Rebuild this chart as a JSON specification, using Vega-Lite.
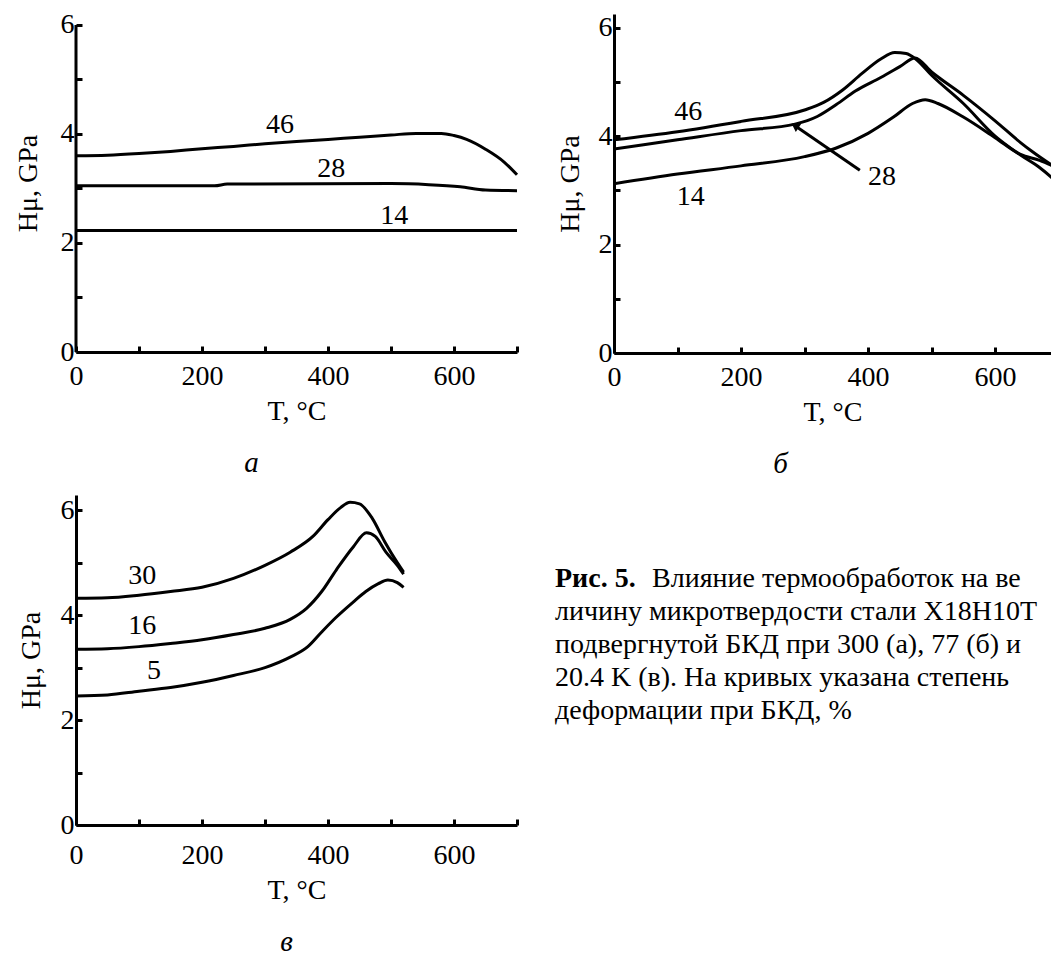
{
  "$schema": "https://vega.github.io/schema/vega-lite/v6.json",
  "padding": {"left": 14, "top": 10, "right": 0, "bottom": 0},
  "background": "white",
  "config": {
    "view": {"stroke": null},
    "font": "Liberation Serif",
    "axis": {"domainColor": "black", "domainWidth": 3, "tickColor": "black", "tickWidth": 3, "grid": false,
      "labelFont": "Liberation Serif", "labelFontSize": 28, "labelColor": "black",
      "titleFont": "Liberation Serif", "titleFontSize": 28, "titleFontWeight": "normal", "titleColor": "black"},
    "title": {"font": "Liberation Serif", "fontSize": 29, "fontStyle": "italic", "fontWeight": "normal", "color": "black"},
    "text": {"font": "Liberation Serif", "fontSize": 28, "color": "black"}
  },
  "datasets": {
    "a": [
      {"s": "46", "T": 0, "H": 3.6}, {"s": "46", "T": 50, "H": 3.61}, {"s": "46", "T": 100, "H": 3.64}, {"s": "46", "T": 150, "H": 3.68},
      {"s": "46", "T": 200, "H": 3.73}, {"s": "46", "T": 250, "H": 3.77}, {"s": "46", "T": 300, "H": 3.82}, {"s": "46", "T": 350, "H": 3.86},
      {"s": "46", "T": 400, "H": 3.9}, {"s": "46", "T": 450, "H": 3.94}, {"s": "46", "T": 500, "H": 3.98}, {"s": "46", "T": 540, "H": 4.01},
      {"s": "46", "T": 580, "H": 4.01}, {"s": "46", "T": 600, "H": 3.97}, {"s": "46", "T": 620, "H": 3.9}, {"s": "46", "T": 650, "H": 3.72},
      {"s": "46", "T": 680, "H": 3.48}, {"s": "46", "T": 700, "H": 3.25},
      {"s": "28", "T": 0, "H": 3.05}, {"s": "28", "T": 220, "H": 3.05}, {"s": "28", "T": 240, "H": 3.08}, {"s": "28", "T": 500, "H": 3.09},
      {"s": "28", "T": 560, "H": 3.07}, {"s": "28", "T": 610, "H": 3.03}, {"s": "28", "T": 650, "H": 2.97}, {"s": "28", "T": 700, "H": 2.96},
      {"s": "14", "T": 0, "H": 2.23}, {"s": "14", "T": 700, "H": 2.23}
    ],
    "aAxis": [
      {"T": 0, "H": 0, "H2": 6}
    ],
    "aLab": [
      {"T": 324, "H": 4.16, "label": "46"}, {"T": 405, "H": 3.35, "label": "28"}, {"T": 505, "H": 2.5, "label": "14"}
    ],
    "b": [
      {"s": "46", "T": 0, "H": 3.93}, {"s": "46", "T": 100, "H": 4.08}, {"s": "46", "T": 200, "H": 4.27}, {"s": "46", "T": 300, "H": 4.48},
      {"s": "46", "T": 330, "H": 4.62}, {"s": "46", "T": 360, "H": 4.85}, {"s": "46", "T": 390, "H": 5.15}, {"s": "46", "T": 420, "H": 5.42},
      {"s": "46", "T": 442, "H": 5.54}, {"s": "46", "T": 460, "H": 5.52}, {"s": "46", "T": 475, "H": 5.42}, {"s": "46", "T": 500, "H": 5.12},
      {"s": "46", "T": 550, "H": 4.6}, {"s": "46", "T": 600, "H": 4.0}, {"s": "46", "T": 640, "H": 3.65}, {"s": "46", "T": 670, "H": 3.42},
      {"s": "46", "T": 700, "H": 3.12},
      {"s": "28", "T": 0, "H": 3.76}, {"s": "28", "T": 100, "H": 3.93}, {"s": "28", "T": 200, "H": 4.1}, {"s": "28", "T": 285, "H": 4.22},
      {"s": "28", "T": 320, "H": 4.36}, {"s": "28", "T": 350, "H": 4.58}, {"s": "28", "T": 380, "H": 4.83}, {"s": "28", "T": 420, "H": 5.08},
      {"s": "28", "T": 450, "H": 5.28}, {"s": "28", "T": 474, "H": 5.44}, {"s": "28", "T": 500, "H": 5.18}, {"s": "28", "T": 550, "H": 4.75},
      {"s": "28", "T": 600, "H": 4.28}, {"s": "28", "T": 640, "H": 3.88}, {"s": "28", "T": 660, "H": 3.7}, {"s": "28", "T": 700, "H": 3.38},
      {"s": "14", "T": 0, "H": 3.12}, {"s": "14", "T": 100, "H": 3.3}, {"s": "14", "T": 200, "H": 3.45}, {"s": "14", "T": 300, "H": 3.62},
      {"s": "14", "T": 350, "H": 3.78}, {"s": "14", "T": 400, "H": 4.05}, {"s": "14", "T": 440, "H": 4.35}, {"s": "14", "T": 470, "H": 4.6},
      {"s": "14", "T": 490, "H": 4.67}, {"s": "14", "T": 510, "H": 4.6}, {"s": "14", "T": 550, "H": 4.35}, {"s": "14", "T": 600, "H": 3.97},
      {"s": "14", "T": 640, "H": 3.66}, {"s": "14", "T": 670, "H": 3.55}, {"s": "14", "T": 700, "H": 3.4}
    ],
    "bLab": [
      {"T": 117, "H": 4.44, "label": "46"}, {"T": 121, "H": 2.87, "label": "14"}, {"T": 422, "H": 3.24, "label": "28"}
    ],
    "bArrow": [
      {"T": 387, "H": 3.37, "T2": 285, "H2": 4.19}
    ],
    "v": [
      {"s": "30", "T": 0, "H": 4.32}, {"s": "30", "T": 50, "H": 4.33}, {"s": "30", "T": 100, "H": 4.38}, {"s": "30", "T": 150, "H": 4.45},
      {"s": "30", "T": 200, "H": 4.53}, {"s": "30", "T": 250, "H": 4.7}, {"s": "30", "T": 300, "H": 4.95}, {"s": "30", "T": 340, "H": 5.2},
      {"s": "30", "T": 376, "H": 5.5}, {"s": "30", "T": 400, "H": 5.82}, {"s": "30", "T": 420, "H": 6.05}, {"s": "30", "T": 435, "H": 6.15},
      {"s": "30", "T": 450, "H": 6.12}, {"s": "30", "T": 470, "H": 5.85}, {"s": "30", "T": 490, "H": 5.4}, {"s": "30", "T": 510, "H": 5.0},
      {"s": "30", "T": 520, "H": 4.82},
      {"s": "16", "T": 0, "H": 3.35}, {"s": "16", "T": 50, "H": 3.36}, {"s": "16", "T": 100, "H": 3.4}, {"s": "16", "T": 150, "H": 3.46},
      {"s": "16", "T": 200, "H": 3.53}, {"s": "16", "T": 250, "H": 3.63}, {"s": "16", "T": 300, "H": 3.75}, {"s": "16", "T": 340, "H": 3.92},
      {"s": "16", "T": 366, "H": 4.13}, {"s": "16", "T": 390, "H": 4.45}, {"s": "16", "T": 413, "H": 4.86}, {"s": "16", "T": 440, "H": 5.3},
      {"s": "16", "T": 461, "H": 5.57}, {"s": "16", "T": 475, "H": 5.5}, {"s": "16", "T": 492, "H": 5.2}, {"s": "16", "T": 510, "H": 4.95},
      {"s": "16", "T": 520, "H": 4.78},
      {"s": "5", "T": 0, "H": 2.46}, {"s": "5", "T": 50, "H": 2.48}, {"s": "5", "T": 100, "H": 2.55}, {"s": "5", "T": 150, "H": 2.62},
      {"s": "5", "T": 200, "H": 2.72}, {"s": "5", "T": 250, "H": 2.85}, {"s": "5", "T": 300, "H": 3.0}, {"s": "5", "T": 340, "H": 3.2},
      {"s": "5", "T": 368, "H": 3.4}, {"s": "5", "T": 390, "H": 3.68}, {"s": "5", "T": 413, "H": 3.96}, {"s": "5", "T": 440, "H": 4.25},
      {"s": "5", "T": 460, "H": 4.45}, {"s": "5", "T": 480, "H": 4.6}, {"s": "5", "T": 495, "H": 4.67}, {"s": "5", "T": 510, "H": 4.62},
      {"s": "5", "T": 520, "H": 4.53}
    ],
    "vLab": [
      {"T": 105, "H": 4.74, "label": "30"}, {"T": 105, "H": 3.8, "label": "16"}, {"T": 124, "H": 2.94, "label": "5"}
    ],
    "cap": [
      {"line": 1, "w": "bold", "t": "Рис. 5."},
      {"line": 1, "w": "lead", "t": "Влияние термообработок на ве"},
      {"line": 2, "w": "normal", "t": "личину микротвердости стали Х18Н10Т"},
      {"line": 3, "w": "normal", "t": "подвергнутой БКД при 300 (а), 77 (б) и"},
      {"line": 4, "w": "normal", "t": "20.4 K (в). На кривых указана степень"},
      {"line": 5, "w": "normal", "t": "деформации при БКД, %"}
    ]
  },
  "spacing": 16,
  "vconcat": [
    {
      "spacing": 33,
      "hconcat": [
        {
          "width": 441, "height": 338,
          "title": {"text": "a", "orient": "bottom", "frame": "group", "dx": -45, "offset": 24},
          "layer": [
            {
              "data": {"name": "a"},
              "mark": {"type": "line", "interpolate": "monotone", "strokeWidth": 3, "color": "black"},
              "encoding": {
                "x": {"field": "T", "type": "quantitative", "scale": {"domain": [0, 700], "nice": false},
                  "axis": {"title": "T, °C", "values": [0, 100, 200, 300, 400, 500, 600, 700], "format": "d", "labelExpr": "datum.value % 200 == 0 ? datum.label : ''", "tickSize": -6, "labelPadding": 16, "titlePadding": 7, "labelFlush": false, "labelOverlap": false}},
                "y": {"field": "H", "type": "quantitative", "scale": {"domain": [0, 6.2], "nice": false},
                  "axis": {"title": "Hμ, GPa", "domain": false, "values": [0, 1, 2, 3, 4, 5, 6], "format": "d", "labelExpr": "datum.value % 2 == 0 ? datum.label : ''", "tickSize": -6, "labelPadding": 8, "titlePadding": 18, "labelOverlap": false}},
                "detail": {"field": "s"}
              }
            },
            {
              "data": {"name": "aAxis"},
              "mark": {"type": "rule", "strokeWidth": 3, "color": "black"},
              "encoding": {
                "x": {"field": "T", "type": "quantitative"},
                "y": {"field": "H", "type": "quantitative"},
                "y2": {"field": "H2"}
              }
            },
            {
              "data": {"name": "aLab"},
              "mark": {"type": "text", "fontSize": 28, "baseline": "middle"},
              "encoding": {
                "x": {"field": "T", "type": "quantitative"},
                "y": {"field": "H", "type": "quantitative"},
                "text": {"field": "label"}
              }
            }
          ]
        },
        {
          "width": 437, "height": 339,
          "title": {"text": "б", "orient": "bottom", "frame": "group", "dx": -52, "offset": 24},
          "layer": [
            {
              "data": {"name": "b"},
              "mark": {"type": "line", "interpolate": "monotone", "strokeWidth": 3, "color": "black", "clip": true},
              "encoding": {
                "x": {"field": "T", "type": "quantitative", "scale": {"domain": [0, 688], "nice": false},
                  "axis": {"title": "T, °C", "values": [0, 100, 200, 300, 400, 500, 600], "format": "d", "labelExpr": "datum.value % 200 == 0 ? datum.label : ''", "tickSize": -6, "labelPadding": 16, "titlePadding": 7, "labelFlush": false, "labelOverlap": false}},
                "y": {"field": "H", "type": "quantitative", "scale": {"domain": [0, 6.25], "nice": false},
                  "axis": {"title": "Hμ, GPa", "values": [0, 1, 2, 3, 4, 5, 6], "format": "d", "labelExpr": "datum.value % 2 == 0 ? datum.label : ''", "tickSize": -6, "labelPadding": 8, "titlePadding": 14, "labelOverlap": false}},
                "detail": {"field": "s"}
              }
            },
            {
              "data": {"name": "bArrow"},
              "mark": {"type": "rule", "strokeWidth": 3, "color": "black"},
              "encoding": {
                "x": {"field": "T", "type": "quantitative"},
                "y": {"field": "H", "type": "quantitative"},
                "x2": {"field": "T2"},
                "y2": {"field": "H2"}
              }
            },
            {
              "data": {"name": "bArrow"},
              "mark": {"type": "point", "shape": "triangle-up", "filled": true, "color": "black", "opacity": 1, "size": 90, "angle": 304},
              "encoding": {
                "x": {"field": "T2", "type": "quantitative"},
                "y": {"field": "H2", "type": "quantitative"}
              }
            },
            {
              "data": {"name": "bLab"},
              "mark": {"type": "text", "fontSize": 28, "baseline": "middle"},
              "encoding": {
                "x": {"field": "T", "type": "quantitative"},
                "y": {"field": "H", "type": "quantitative"},
                "text": {"field": "label"}
              }
            }
          ]
        }
      ]
    },
    {
      "spacing": 36,
      "hconcat": [
        {
          "width": 441, "height": 330,
          "title": {"text": "в", "orient": "bottom", "frame": "group", "dx": -10, "offset": 24},
          "layer": [
            {
              "data": {"name": "v"},
              "mark": {"type": "line", "interpolate": "monotone", "strokeWidth": 3, "color": "black"},
              "encoding": {
                "x": {"field": "T", "type": "quantitative", "scale": {"domain": [0, 700], "nice": false},
                  "axis": {"title": "T, °C", "values": [0, 100, 200, 300, 400, 500, 600, 700], "format": "d", "labelExpr": "datum.value % 200 == 0 ? datum.label : ''", "tickSize": -6, "labelPadding": 22, "titlePadding": 7, "labelFlush": false, "labelOverlap": false}},
                "y": {"field": "H", "type": "quantitative", "scale": {"domain": [0, 6.29], "nice": false},
                  "axis": {"title": "Hμ, GPa", "values": [0, 1, 2, 3, 4, 5, 6], "format": "d", "labelExpr": "datum.value % 2 == 0 ? datum.label : ''", "tickSize": -6, "labelPadding": 8, "titlePadding": 15, "labelOverlap": false}},
                "detail": {"field": "s"}
              }
            },
            {
              "data": {"name": "vLab"},
              "mark": {"type": "text", "fontSize": 28, "baseline": "middle"},
              "encoding": {
                "x": {"field": "T", "type": "quantitative"},
                "y": {"field": "H", "type": "quantitative"},
                "text": {"field": "label"}
              }
            }
          ]
        },
        {
          "width": 495, "height": 330,
          "data": {"name": "cap"},
          "encoding": {
            "x": {"datum": 0, "type": "quantitative", "scale": {"domain": [0, 1]}, "axis": null},
            "y": {"field": "line", "type": "quantitative", "scale": {"domain": [-1.56, 8.44], "reverse": true}, "axis": null},
            "text": {"field": "t"}
          },
          "layer": [
            {"transform": [{"filter": "datum.w == 'bold'"}], "mark": {"type": "text", "align": "left", "baseline": "middle", "fontSize": 28, "fontWeight": "bold"}},
            {"transform": [{"filter": "datum.w == 'lead'"}], "mark": {"type": "text", "align": "left", "baseline": "middle", "fontSize": 28, "dx": 97}},
            {"transform": [{"filter": "datum.w == 'normal'"}], "mark": {"type": "text", "align": "left", "baseline": "middle", "fontSize": 28}}
          ]
        }
      ]
    }
  ]
}
